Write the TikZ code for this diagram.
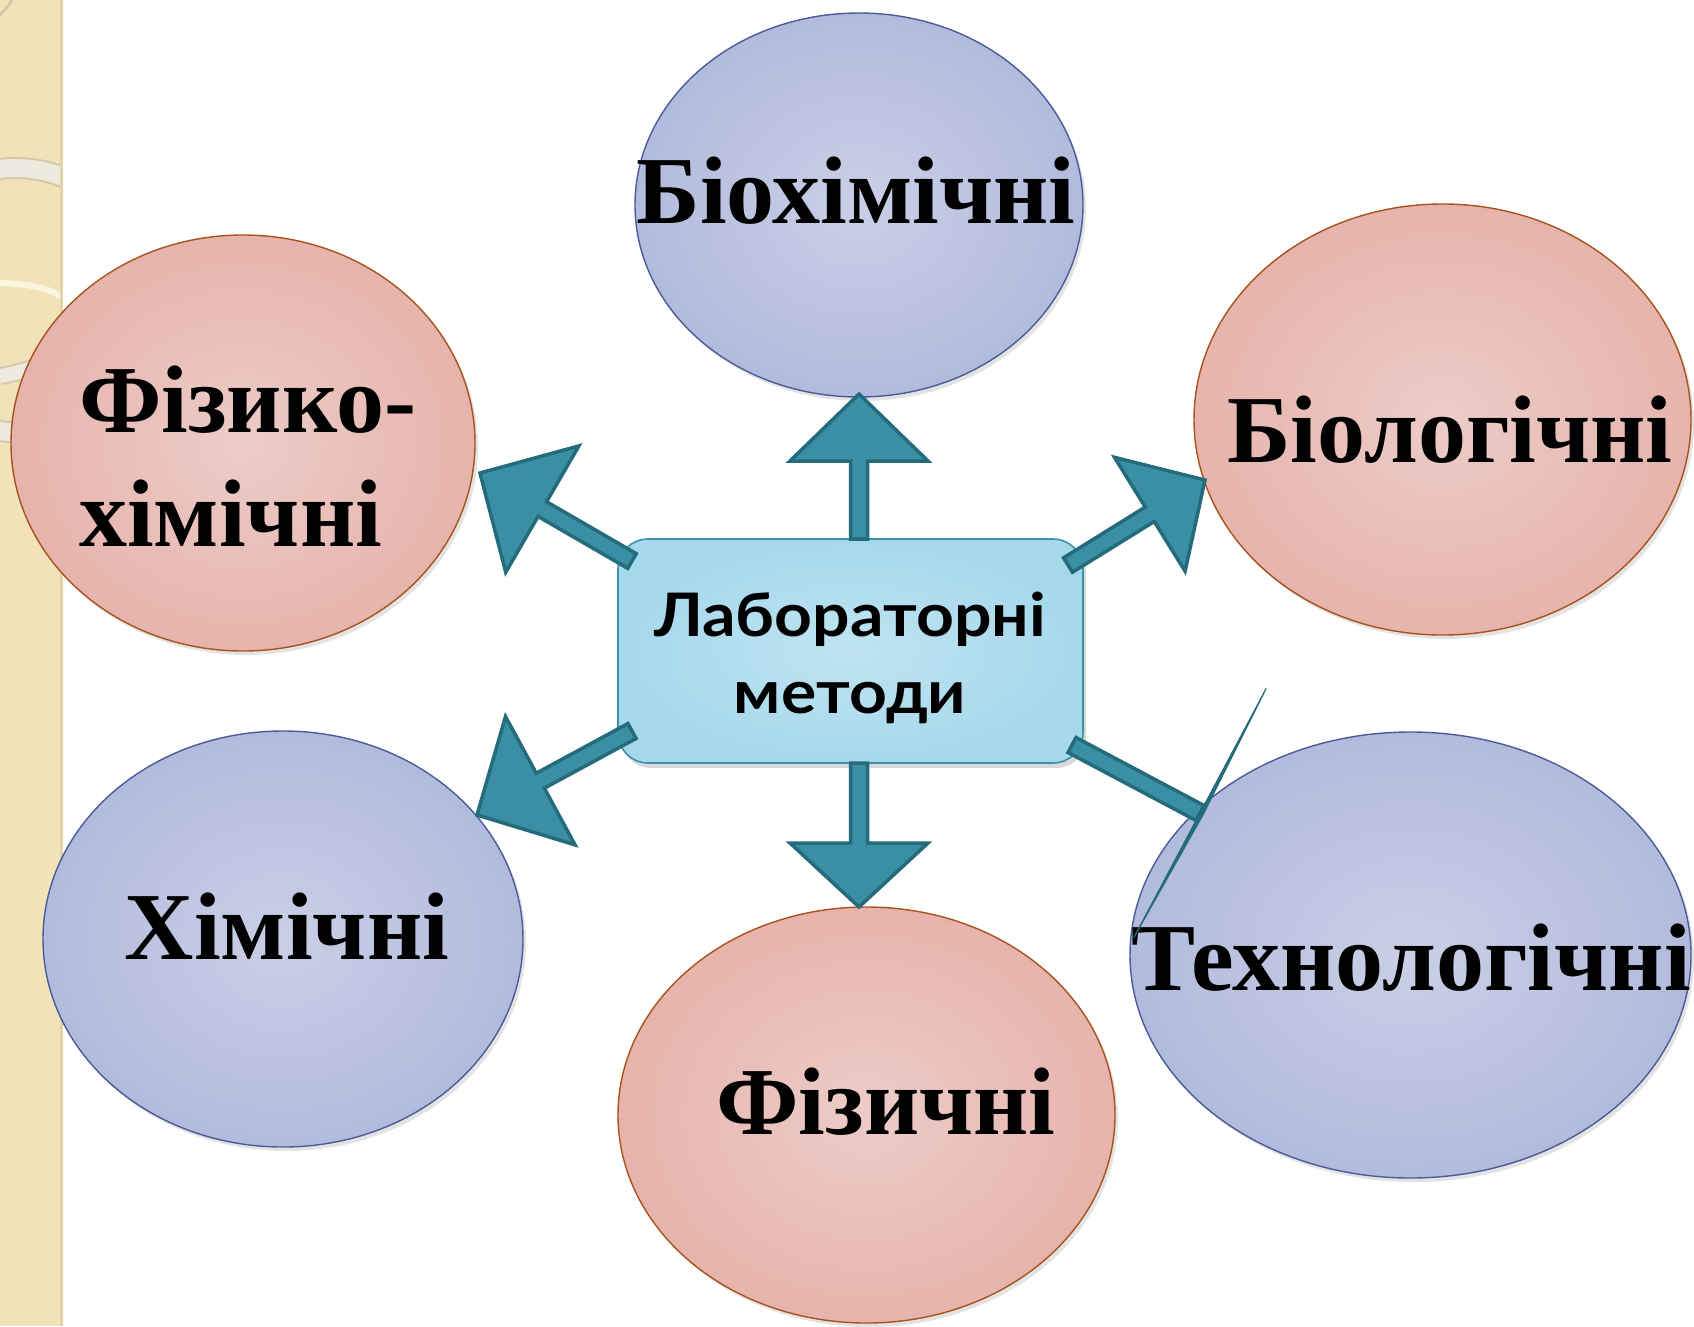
\documentclass[tikz,border=0pt]{standalone}
\usepackage{fontspec}
\setmainfont{Liberation Serif}
\newfontfamily\boxfont[FakeStretch=1.1]{Lato}
\usetikzlibrary{shapes.geometric,calc,shadows}

\definecolor{pinkout}{HTML}{E6B4AC}
\definecolor{pinkin}{HTML}{EDCCC7}
\definecolor{pinkline}{HTML}{A8521C}
\definecolor{blueout}{HTML}{B2BBDD}
\definecolor{bluein}{HTML}{CACFE6}
\definecolor{blueline}{HTML}{4A5C98}
\definecolor{boxout}{HTML}{A5D8EC}
\definecolor{boxin}{HTML}{C0E4F1}
\definecolor{boxline}{HTML}{3D92AA}
\definecolor{arrfill}{HTML}{3A8FA5}
\definecolor{arrline}{HTML}{246B7C}
\definecolor{strip}{HTML}{F1E2B9}
\definecolor{stripedge}{HTML}{E3D3A6}
\definecolor{ringband}{HTML}{EEEAE0}
\definecolor{ringline}{HTML}{D5C9A7}
\definecolor{ringlight}{HTML}{FBF4DF}

\tikzset{
  x=1pt, y=-1pt,
  oval/.style={ellipse, inner sep=0pt, line width=1.4pt, shading=radial,
     drop shadow={opacity=0.22, shadow xshift=3pt, shadow yshift=-4pt}},
  pinkoval/.style={oval, draw=pinkline, inner color=pinkin, outer color=pinkout},
  blueoval/.style={oval, draw=blueline, inner color=bluein, outer color=blueout},
  bigtxt/.style={inner sep=0pt, anchor=base, font=\fontsize{96}{110}\selectfont\bfseries},
  boxtxt/.style={inner sep=0pt, anchor=base, font=\boxfont\fontsize{60}{70}\selectfont\bfseries},
  arrowshape/.style={fill=arrfill, draw=arrline, line width=3.5pt, line join=miter},
  slivershape/.style={fill=arrline, draw=arrline, line width=1.2pt, line join=bevel},
  bandedge/.style={draw=ringline, line width=#1},
  bandfill/.style={draw=ringband, line width=#1},
}

% #1 start, #2 tip, #3 head length, #4 head half width, #5 shaft half width, #6 style
\newcommand\blockarrow[6]{%
  \coordinate (ba-b) at ($(#2)!#3!(#1)$);
  \path[#6] ($(#1)!#5!90:(#2)$) -- ($(ba-b)!#5!90:(#2)$) -- ($(ba-b)!#4!90:(#2)$)
     -- (#2) -- ($(ba-b)!#4!-90:(#2)$) -- ($(ba-b)!#5!-90:(#2)$) -- ($(#1)!#5!-90:(#2)$) -- cycle;
}

\begin{document}
\begin{tikzpicture}
\useasboundingbox (0,0) rectangle (1694,1326);
\fill[white] (0,0) rectangle (1694,1326);

% left decorative strip
\fill[strip] (0,0) rectangle (63,1326);
\fill[stripedge] (60,0) rectangle (63,1326);
\begin{scope}
  \clip (0,0) rectangle (60,1326);
  \draw[bandedge=22pt] (15,300) circle[radius=132];
  \draw[bandfill=18pt] (15,300) circle[radius=132];
  \draw[draw=ringlight, line width=6pt] (0,283) .. controls (30,284) and (50,288) .. (63,298);
  \draw[bandedge=18pt] (0,376) .. controls (25,372) and (45,364) .. (63,356);
  \draw[bandfill=14pt] (0,376) .. controls (25,372) and (45,364) .. (63,356);
  \draw[ringline, line width=3pt] (-40,-30) circle[radius=60];
\end{scope}

% ellipses
\node[blueoval, minimum width=448pt, minimum height=384pt] (bio) at (859,205) {};
\node[pinkoval, minimum width=464pt, minimum height=416pt] (fizh) at (243,443) {};
\node[pinkoval, minimum width=497pt, minimum height=431pt] (biol) at (1442.5,419.5) {};
\node[blueoval, minimum width=480pt, minimum height=416pt] (him) at (283,939) {};
\node[pinkoval, minimum width=497pt, minimum height=416pt] (fiz) at (866.5,1115) {};
\node[blueoval, minimum width=561pt, minimum height=446pt] (tech) at (1410.5,955) {};

% central box
\node[draw=boxline, line width=1.6pt, rounded corners=30pt, shading=radial,
      inner color=boxin, outer color=boxout, minimum width=465pt, minimum height=224pt,
      drop shadow={opacity=0.3, shadow xshift=3pt, shadow yshift=-5pt}] (lab) at (850.5,651) {};
\node[boxtxt] (labA) at (850,636.5) {Лабораторні};
\node[boxtxt] (labB) at (850,713) {методи};

% texts
\node[bigtxt] (bioT) at (856,223) {Біохімічні};
\node[bigtxt, anchor=base west] (fizhA) at (79,432) {Фізико-};
\node[bigtxt, anchor=base west] (fizhB) at (79,546) {хімічні};
\node[bigtxt] (biolT) at (1450,462) {Біологічні};
\node[bigtxt] (himT) at (287,959) {Хімічні};
\node[bigtxt] (fizT) at (886,1134) {Фізичні};
\node[bigtxt] (techT) at (1411,990) {Технологічні};

% arrow coordinates
\coordinate (upS) at (859,539);   \coordinate (upT) at (859,394);
\coordinate (dnS) at (859,763);   \coordinate (dnT) at (859,907);
\coordinate (ulS) at (632,561);   \coordinate (ulT) at (480,473);
\coordinate (llS) at (632,731);   \coordinate (llT) at (477,815);
\coordinate (urS) at (1068,565);  \coordinate (urT) at (1205,480);
\coordinate (lrS) at (1072,745);  \coordinate (lrE) at (1200,813);
\coordinate (lrT) at ($(lrE)!-3.5pt!(lrS)$);

\blockarrow{upS}{upT}{67pt}{69pt}{8.5pt}{arrowshape}
\blockarrow{dnS}{dnT}{64pt}{69pt}{8.5pt}{arrowshape}
\blockarrow{ulS}{ulT}{72pt}{73pt}{8.5pt}{arrowshape}
\blockarrow{llS}{llT}{72pt}{73pt}{8.5pt}{arrowshape}
\blockarrow{urS}{urT}{65pt}{67pt}{8.5pt}{arrowshape}
% lower-right arrow: shaft with a collapsed head
\path[arrowshape] ($(lrS)!8.5pt!90:(lrE)$) -- ($(lrE)!8.5pt!-90:(lrS)$) -- ($(lrE)!8.5pt!90:(lrS)$) -- ($(lrS)!8.5pt!-90:(lrE)$) -- cycle;
\path[slivershape] ($(lrE)!141pt!90:(lrT)$) -- (lrT) -- ($(lrE)!141pt!-90:(lrT)$) -- cycle;
\end{tikzpicture}
\end{document}
